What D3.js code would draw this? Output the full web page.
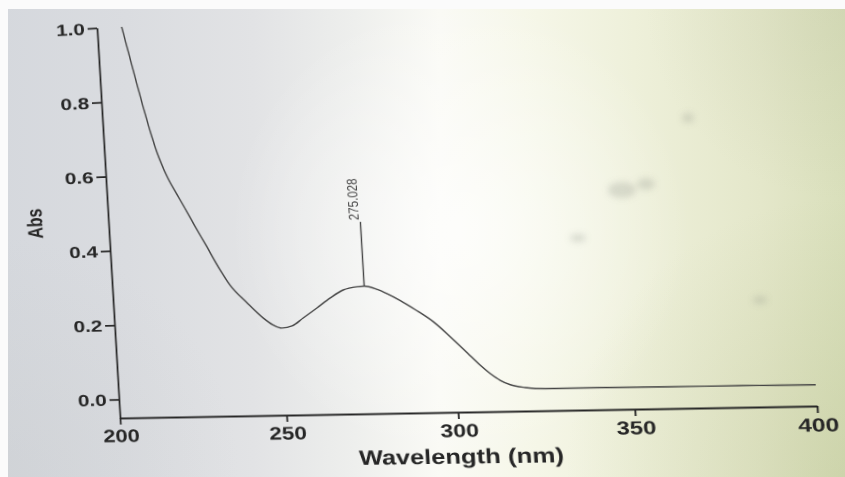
<!DOCTYPE html>
<html>
<head>
<meta charset="utf-8">
<script src="https://cdn.jsdelivr.net/npm/d3@7"></script>
<style>
  html, body { margin: 0; padding: 0; background: #ffffff; }
  #stage { position: relative; width: 845px; height: 477px; overflow: hidden; }
  #paper { position: absolute; left: 0; top: 0; }
  #chart { position: absolute; left: 0; top: 0; transform-origin: 0 0; overflow: visible; filter: blur(0.35px); }
  text { font-family: "Liberation Sans", Arial, Helvetica, sans-serif; }
</style>
</head>
<body>
<div id="stage">
  <svg id="paper" width="845" height="477"></svg>
  <svg id="chart" width="845" height="477"></svg>
</div>
<script>
// UV-Vis absorption spectrum
const wavelength = [207.5, 210.2, 212.6, 214.7, 216.0, 218.6, 222.1, 225.6, 229.3, 232.8,
                    235.5, 240.3, 244.8, 247.6, 250.2, 253.2, 256.6, 260.9, 264.9, 268.8,
                    273.0, 275.0, 278.8, 281.6, 285.3, 289.5, 294.4, 299.0, 303.7, 307.2,
                    309.9, 312.6, 315.4, 319.6, 325.3, 340.0, 360.0, 380.0, 400.0];
const absorbance = [1.000, 0.883, 0.782, 0.701, 0.658, 0.593, 0.530, 0.467, 0.402, 0.340,
                    0.299, 0.250, 0.209, 0.190, 0.181, 0.186, 0.206, 0.232, 0.257, 0.277,
                    0.285, 0.286, 0.276, 0.264, 0.245, 0.220, 0.188, 0.148, 0.104, 0.071,
                    0.049, 0.031, 0.019, 0.011, 0.007, 0.007, 0.006, 0.005, 0.004];
const xTicks = [200, 250, 300, 350, 400];
const yTicks = [0.0, 0.2, 0.4, 0.6, 0.8, 1.0];
const peakLabel = "275.028";
const peakMarkerTop = 0.455;
const xTitle = "Wavelength (nm)";
const yTitle = "Abs";

// ---------- paper background ----------
const paper = d3.select("#paper");
const defs = paper.append("defs");
const base = defs.append("linearGradient").attr("id", "base")
  .attr("x1", 0).attr("x2", 1).attr("y1", 0).attr("y2", 0);
[[0, "#d5d8dd"], [0.15, "#dadce0"], [0.3, "#e2e3e5"], [0.42, "#eeefed"], [0.52, "#fafaf5"],
 [0.62, "#f6f7e9"], [0.75, "#eef0da"], [0.9, "#e4e7ca"], [1, "#d9dfbb"]]
  .forEach(([o, c]) => base.append("stop").attr("offset", o).attr("stop-color", c));

function radial(id, cx, cy, r, color, op) {
  const g = defs.append("radialGradient").attr("id", id)
    .attr("gradientUnits", "userSpaceOnUse").attr("cx", cx).attr("cy", cy).attr("r", r);
  g.append("stop").attr("offset", 0).attr("stop-color", color).attr("stop-opacity", op);
  g.append("stop").attr("offset", 1).attr("stop-color", color).attr("stop-opacity", 0);
}
radial("glow", 460, 230, 230, "#ffffff", 0.7);
radial("shadeBR", 845, 477, 280, "#b7c08e", 0.35);
radial("shadeTR", 845, 0, 200, "#bfc4a2", 0.3);
radial("shadeBL", 0, 477, 240, "#c6c9cb", 0.35);

defs.append("filter").attr("id", "soft").append("feGaussianBlur").attr("stdDeviation", 3);

["base", "glow", "shadeBR", "shadeTR", "shadeBL"].forEach(id =>
  paper.append("rect").attr("width", 845).attr("height", 477).attr("fill", `url(#${id})`));

// faint stains on the sheet
const stains = [[622, 190, 14, 8], [646, 184, 9, 6], [578, 238, 8, 4], [688, 118, 6, 5], [760, 300, 7, 4]];
paper.append("g").attr("filter", "url(#soft)").selectAll("ellipse").data(stains).join("ellipse")
  .attr("cx", d => d[0]).attr("cy", d => d[1]).attr("rx", d => d[2]).attr("ry", d => d[3])
  .attr("fill", "#8f9488").attr("opacity", 0.28);

// white border of the sheet
paper.append("rect").attr("x", 0).attr("y", 0).attr("width", 845).attr("height", 9).attr("fill", "#fbfbfb");
paper.append("rect").attr("x", 0).attr("y", 0).attr("width", 8).attr("height", 477).attr("fill", "#fbfbfb");

// ---------- chart ----------
const ox = 120, oy = 418, plotW = 697, plotH = 414.2;
const x = d3.scaleLinear().domain([200, 400]).range([ox, ox + plotW]);
const y = d3.scaleLinear().domain([-0.05, 1.0]).range([oy, oy - plotH]);

// view of the printed sheet: slight tilt, shear and perspective
const k = 0.062, shearX = 0.059, tiltY = -0.0172;
const g = -k / plotW;
const w0 = 1 + k + ox * k / plotW;
const m = {
  a: (1 + ox * g) / w0, b: (oy * g + tiltY) / w0,
  c: shearX / w0, d: 1 / w0,
  e: (ox * w0 - ox - oy * shearX) / w0, f: (oy * w0 - ox * tiltY - oy) / w0,
  p: g / w0
};
d3.select("#chart").style("transform",
  `matrix3d(${m.a},${m.b},0,${m.p},${m.c},${m.d},0,0,0,0,1,0,${m.e},${m.f},0,1)`);

const svg = d3.select("#chart");
const ink = "#262626";
const fontFamily = "Liberation Sans, Arial, sans-serif";

// x axis
const gx = svg.append("g").attr("transform", `translate(0,${oy})`)
  .call(d3.axisBottom(x).tickValues(xTicks).tickFormat(d3.format("d")).tickSize(7).tickSizeOuter(0));
gx.select(".domain").attr("stroke", ink).attr("stroke-width", 1.8);
gx.selectAll(".tick line").attr("stroke", ink).attr("stroke-width", 1.8);
gx.selectAll(".tick text")
  .attr("y", 0).attr("dy", "0.71em")
  .attr("transform", "translate(0,12) scale(1.22,1)")
  .attr("fill", ink).attr("font-size", 19).attr("font-weight", "bold")
  .attr("font-family", fontFamily);

// y axis
const gy = svg.append("g").attr("transform", `translate(${ox},0)`)
  .call(d3.axisLeft(y).tickValues(yTicks).tickFormat(d3.format(".1f")).tickSize(10).tickSizeOuter(0));
gy.select(".domain").attr("stroke", ink).attr("stroke-width", 1.8);
gy.selectAll(".tick line").attr("stroke", ink).attr("stroke-width", 1.8);
gy.selectAll(".tick text")
  .attr("x", 0).attr("dy", "0.35em")
  .attr("transform", "translate(-13,0) scale(1.3,1)")
  .attr("fill", ink).attr("font-size", 17).attr("font-weight", "bold")
  .attr("font-family", fontFamily);

// axis titles
svg.append("text")
  .attr("transform", `translate(${x(300)},${oy + 53}) scale(1.19,1)`)
  .attr("text-anchor", "middle").attr("font-size", 21.5).attr("font-weight", "bold")
  .attr("font-family", fontFamily).attr("fill", ink).text(xTitle);
svg.append("text")
  .attr("transform", `translate(${ox - 79},${y(0.48)}) scale(1.35,1) rotate(-90)`)
  .attr("text-anchor", "middle").attr("dy", "0.36em")
  .attr("font-size", 17).attr("font-weight", "bold")
  .attr("font-family", fontFamily).attr("fill", ink).text(yTitle);

// spectrum
const spectrum = wavelength.map((w, i) => [w, absorbance[i]]);
svg.append("path").datum(spectrum)
  .attr("fill", "none").attr("stroke", "#444444").attr("stroke-width", 1.45)
  .attr("stroke-linejoin", "round")
  .attr("d", d3.line().x(d => x(d[0])).y(d => y(d[1])).curve(d3.curveMonotoneX));

// peak marker: vertical line from the band maximum, labelled with its wavelength
const peakW = +peakLabel;
const peakA = absorbance[d3.minIndex(wavelength, w => Math.abs(w - peakW))];
svg.append("line")
  .attr("x1", x(peakW)).attr("x2", x(peakW))
  .attr("y1", y(peakA)).attr("y2", y(peakMarkerTop))
  .attr("stroke", "#444444").attr("stroke-width", 1.4);
svg.append("text")
  .attr("transform", `translate(${x(peakW) - 1.5},${y(peakMarkerTop) - 2}) scale(1.2,1) rotate(-90)`)
  .attr("text-anchor", "start").attr("font-size", 12).attr("fill", "#444")
  .attr("font-family", fontFamily).text(peakLabel);
</script>
</body>
</html>
